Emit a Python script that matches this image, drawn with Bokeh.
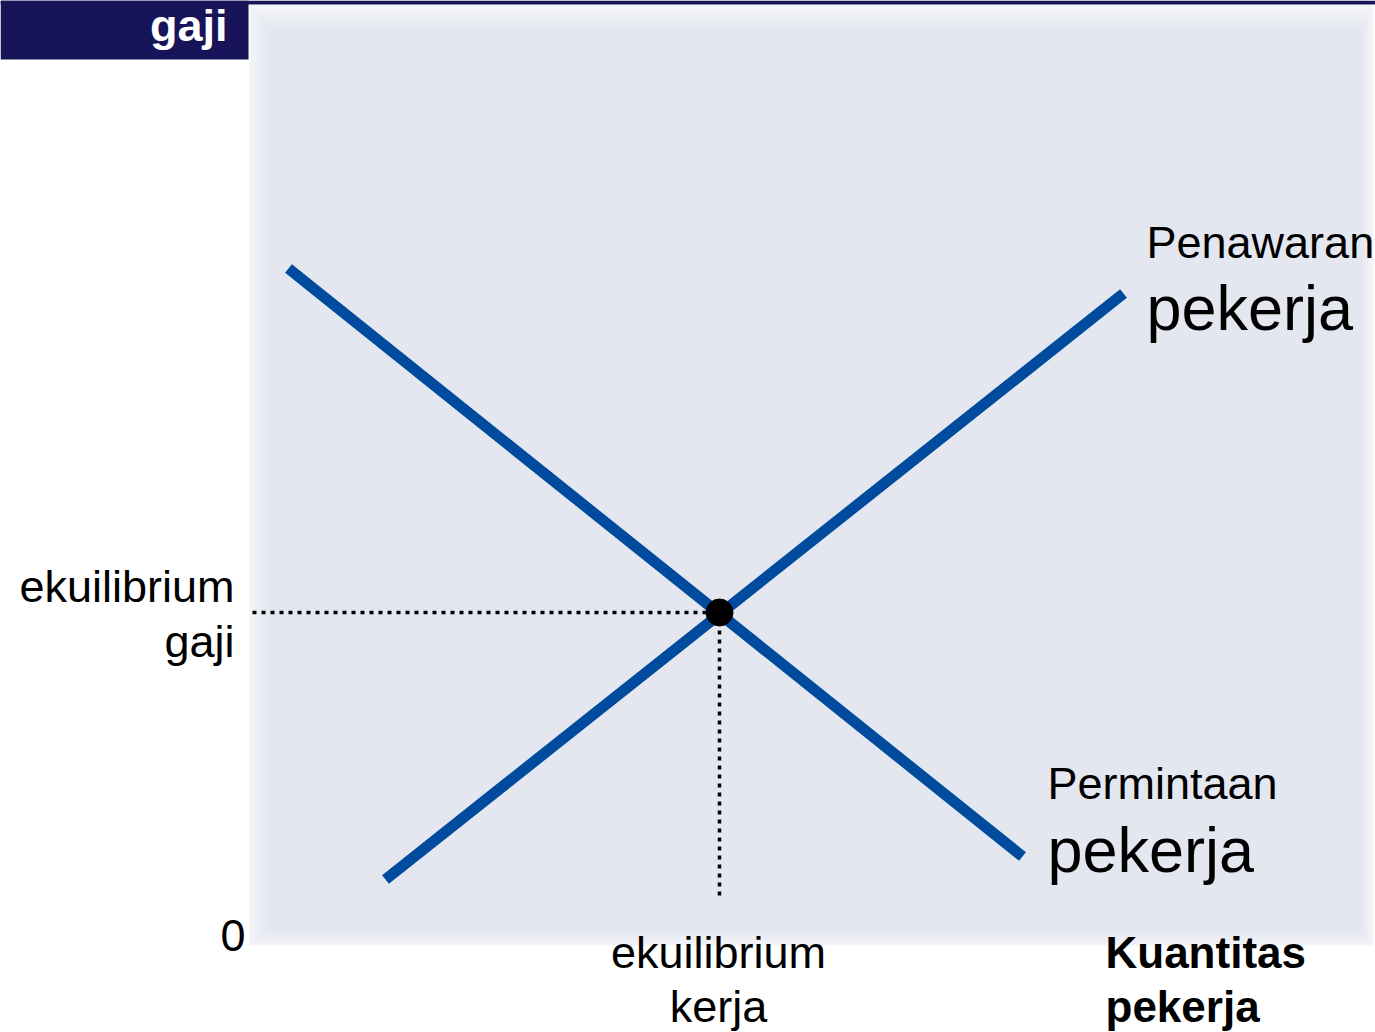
from bokeh.plotting import figure
from bokeh.models import Range1d
from bokeh.core.properties import value
from bokeh.embed import file_html
from bokeh.resources import INLINE

# ---- data (quantity of workers vs. wage, conceptual units) ----
demand_q = [0.39, 7.73]
demand_w = [6.77, 0.89]
supply_q = [1.36, 8.74]
supply_w = [0.66, 6.52]
eq_q = [4.70]
eq_w = [3.33]
axis_zero = ["0"]
y_label = ["ekuilibrium", "gaji"]
x_label = ["ekuilibrium", "kerja"]
x_title = ["Kuantitas", "pekerja"]
y_title = "gaji"
supply_label = ["Penawaran", "pekerja"]
demand_label = ["Permintaan", "pekerja"]

FONT = value("Liberation Sans")
NAVY = "#17145A"
BLUE = "#004B9D"
W, H = 1375, 1032

# layout helpers: reference pixel -> data units
def X(px):
    return (px - 249) / 100.0

def Y(py):
    return (945 - py) / 100.0

def TY(baseline_px, size):
    # compensate the renderer's baseline offset for text
    return Y(baseline_px - 0.32 * size)

p = figure(width=W, height=H,
           x_range=Range1d(X(0), X(W)), y_range=Range1d(Y(H), Y(0)),
           output_backend="svg", toolbar_location=None,
           x_axis_location=None, y_axis_location=None,
           min_border=0, min_border_left=0, min_border_right=0,
           min_border_top=0, min_border_bottom=0)
p.grid.visible = False
p.outline_line_color = None
p.background_fill_color = "white"
p.border_fill_color = "white"

# top navy strip and title band
p.quad(left=X(0), right=X(W), top=Y(0), bottom=Y(4), fill_color=NAVY, line_color=None)
p.quad(left=X(0), right=X(248), top=Y(0), bottom=Y(59), fill_color=NAVY, line_color=None)

# shaded panel (soft edges)
c0 = (0xF3, 0xF4, 0xF8)
c1 = (0xE4, 0xE7, 0xF0)
steps = 9
for i in range(steps):
    t = i / (steps - 1)
    col = "#%02x%02x%02x" % tuple(int(round(a + (b - a) * t)) for a, b in zip(c0, c1))
    p.quad(left=X(249 + 18 * t), right=X(1373 - 12 * t),
           top=Y(5 + 22 * t), bottom=Y(945 - 15 * t),
           fill_color=col, line_color=None)

# dotted guides
p.line(x=[X(252), eq_q[0]], y=[eq_w[0], eq_w[0]], line_color="black",
       line_width=3.5, line_dash="4 5")
p.line(x=[eq_q[0], eq_q[0]], y=[eq_w[0], Y(897)], line_color="black",
       line_width=3.5, line_dash="4 5")

# curves
p.line(x=demand_q, y=demand_w, line_color=BLUE, line_width=11, line_cap="butt")
p.line(x=supply_q, y=supply_w, line_color=BLUE, line_width=11, line_cap="butt")

# equilibrium point
p.scatter(x=eq_q, y=eq_w, size=27, fill_color="black", line_color="black")

# texts
def label(xs, ys, texts, size, align, bold=False, color="black"):
    p.text(x=xs, y=[TY(v, size) for v in ys], text=texts, text_font=FONT,
           text_font_style="bold" if bold else "normal",
           text_font_size=value("%dpx" % size), text_color=color,
           text_align=align, text_baseline="alphabetic")

label([X(227)], [39], [y_title], 45, "right", bold=True, color="white")
label([X(245)], [949], axis_zero, 45, "right")
label([X(234), X(234)], [600, 655], y_label, 45, "right")
label([X(718), X(718)], [966, 1020], x_label, 45, "center")
label([X(1105), X(1105)], [966, 1020], x_title, 44, "left", bold=True)
label([X(1146)], [256], [supply_label[0]], 45, "left")
label([X(1146)], [328], [supply_label[1]], 63, "left")
label([X(1047)], [797], [demand_label[0]], 45, "left")
label([X(1047)], [870], [demand_label[1]], 63, "left")

open("out.html", "w").write(file_html(p, INLINE))
